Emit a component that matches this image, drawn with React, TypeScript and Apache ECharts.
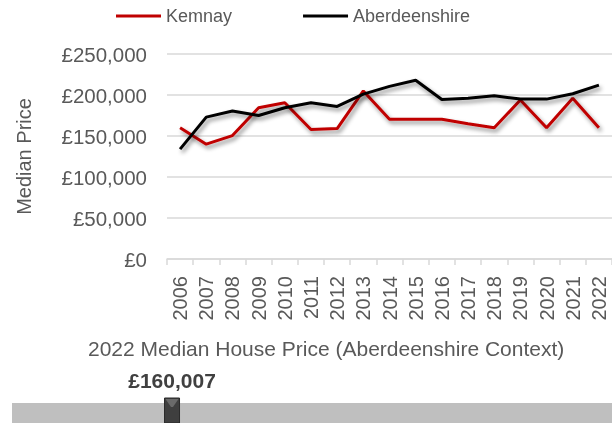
import React, { useEffect, useRef } from "react";
import * as echarts from "echarts";

const years = ["2006", "2007", "2008", "2009", "2010", "2011", "2012", "2013", "2014", "2015", "2016", "2017", "2018", "2019", "2020", "2021", "2022"];
const kemnay = [160000, 140000, 150500, 184500, 190500, 158000, 159000, 205000, 170500, 170500, 170500, 165000, 160000, 194000, 160000, 196000, 160007];
const aberdeenshire = [134000, 173000, 180500, 175000, 184500, 190500, 186000, 201000, 210500, 218000, 194500, 196000, 199000, 195000, 195000, 201500, 212000];
const yTicks = { min: 0, max: 250000, interval: 50000 };
const sliderTitle = "2022 Median House Price (Aberdeenshire Context)";
const sliderValue = 160007;
const sliderRange = [100000, 325000];

const FONT = "'Liberation Sans', Arial, sans-serif";
const fmt = (v: number) => "£" + Math.round(v).toString().replace(/\B(?=(\d{3})+(?!\d))/g, ",");

export default function App() {
  const ref = useRef<HTMLDivElement>(null);
  useEffect(() => {
    if (!ref.current) return;
    const chart = echarts.init(ref.current, null, { renderer: "svg" });
    const shadow = { shadowColor: "rgba(0,0,0,0.45)", shadowBlur: 4, shadowOffsetX: 2, shadowOffsetY: 3 };
    chart.setOption({
      animation: false,
      textStyle: { fontFamily: FONT },
      title: {
        text: sliderTitle,
        left: 83,
        top: 333,
        textStyle: { fontSize: 21, fontWeight: "normal", color: "#595959", fontFamily: FONT },
      },
      legend: {
        left: 111,
        top: 2,
        icon: "rect",
        itemWidth: 45,
        itemHeight: 3,
        itemGap: 71,
        textStyle: { fontSize: 18, color: "#595959", fontFamily: FONT },
        data: ["Kemnay", "Aberdeenshire"],
      },
      grid: [
        { left: 167, right: -3, top: 54, bottom: 164, containLabel: false },
        { left: 12, right: 0, top: 403, height: 20, show: true, backgroundColor: "#BFBFBF", borderWidth: 0 },
      ],
      xAxis: [
        {
          type: "category",
          data: years,
          boundaryGap: true,
          axisLine: { lineStyle: { color: "#D9D9D9", width: 1.5 } },
          axisTick: { show: true, length: 6, lineStyle: { color: "#D9D9D9", width: 1.5 } },
          axisLabel: { rotate: 90, margin: 17, fontSize: 20, color: "#595959", fontFamily: FONT },
        },
        { gridIndex: 1, type: "value", min: sliderRange[0], max: sliderRange[1], show: false },
      ],
      yAxis: [
        {
          type: "value",
          min: yTicks.min,
          max: yTicks.max,
          interval: yTicks.interval,
          name: "Median Price",
          nameLocation: "middle",
          nameRotate: 90,
          nameGap: 133,
          nameTextStyle: { fontSize: 20, color: "#595959", fontFamily: FONT },
          axisLine: { show: false },
          axisTick: { show: false },
          axisLabel: { margin: 20, fontSize: 20.5, color: "#595959", fontFamily: FONT, formatter: (v: number) => fmt(v) },
          splitLine: { lineStyle: { color: "#D9D9D9", width: 1.5 } },
        },
        { gridIndex: 1, type: "value", min: 0, max: 1, show: false },
      ],
      series: [
        {
          name: "Kemnay",
          type: "line",
          data: kemnay,
          symbol: "none",
          color: "#C00000",
          lineStyle: { color: "#C00000", width: 3, ...shadow },
        },
        {
          name: "Aberdeenshire",
          type: "line",
          data: aberdeenshire,
          symbol: "none",
          color: "#000000",
          lineStyle: { color: "#000000", width: 3, ...shadow },
        },
        {
          type: "custom",
          xAxisIndex: 1,
          yAxisIndex: 1,
          data: [[sliderValue, 0.5]],
          clip: false,
          renderItem: (params: any, api: any) => {
            const p = api.coord([api.value(0), api.value(1)]);
            const x = p[0];
            const w = 15;
            const top = 398;
            const bottom = 423;
            return {
              type: "group",
              children: [
                { type: "rect", shape: { x: x - w / 2, y: top, width: w, height: bottom - top }, style: { fill: "#3F3F3F", stroke: "#2A2A2A", lineWidth: 1 } },
                { type: "polygon", shape: { points: [[x - w / 2 + 1, top + 1], [x + w / 2 - 1, top + 1], [x + 1, top + 9], [x - 1, top + 9]] }, style: { fill: "#6A6A6A" } },
                {
                  type: "text",
                  style: { text: fmt(api.value(0)), x, y: 380, align: "center", verticalAlign: "middle", font: `bold 21px ${FONT}`, fill: "#404040" },
                },
              ],
            };
          },
        },
      ],
    });
    return () => chart.dispose();
  }, []);
  return <div ref={ref} style={{ position: "fixed", left: 0, top: 0, width: 612, height: 423 }} />;
}
